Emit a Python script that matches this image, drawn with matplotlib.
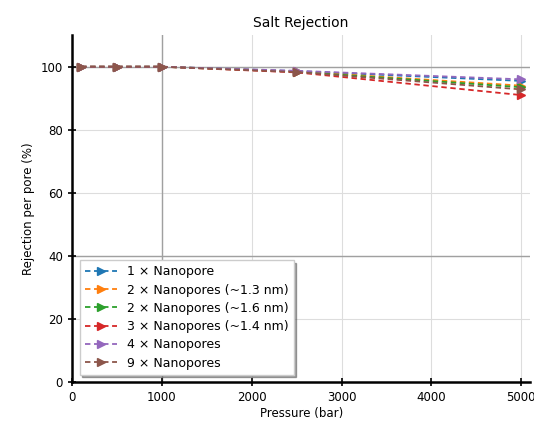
import matplotlib
matplotlib.use("Agg")
import matplotlib.pyplot as plt

# Data
pressure = [100, 500, 1000, 2500, 5000]
labels = ["1 \u00d7 Nanopore",
          "2 \u00d7 Nanopores (~1.3 nm)",
          "2 \u00d7 Nanopores (~1.6 nm)",
          "3 \u00d7 Nanopores (~1.4 nm)",
          "4 \u00d7 Nanopores",
          "9 \u00d7 Nanopores"]
rej_1 = [100, 100, 100, 98.6, 95.5]
rej_2a = [100, 100, 100, 98.5, 94.0]
rej_2b = [100, 100, 100, 98.4, 93.5]
rej_3 = [100, 100, 100, 98.2, 91.0]
rej_4 = [100, 100, 100, 98.7, 96.0]
rej_9 = [100, 100, 100, 98.3, 92.8]
series = [rej_1, rej_2a, rej_2b, rej_3, rej_4, rej_9]

xticks = [0, 1000, 2000, 3000, 4000, 5000]
yticks = [0, 20, 40, 60, 80, 100]

matplotlib.rc('font', size=8.5)

fig, ax = plt.subplots(figsize=(5.34, 4.24), dpi=100)
fig.subplots_adjust(left=0.135, right=0.993, bottom=0.099, top=0.917)

# grid
for x in xticks[1:]:
    ax.axvline(x, color='#dddddd', lw=0.8, zorder=0)
for y in yticks[1:]:
    ax.axhline(y, color='#dddddd', lw=0.8, zorder=0)
ax.axvline(1000, color='#a0a0a0', lw=1.0, zorder=0)
ax.axhline(100, color='#a0a0a0', lw=1.0, zorder=0)
ax.axhline(40, color='#a0a0a0', lw=1.0, zorder=0)

for vals, lab in zip(series, labels):
    ax.plot(pressure, vals, '--', marker='>', markersize=5.5, lw=1.3,
            dashes=(3, 2), label=lab)

ax.set_xlim(0, 5100)
ax.set_ylim(0, 110)
ax.set_xticks(xticks)
ax.set_yticks(yticks)
ax.tick_params(direction='inout', length=6, width=1.2)

for s in ['top', 'right']:
    ax.spines[s].set_visible(False)
for s in ['left', 'bottom']:
    ax.spines[s].set_linewidth(1.8)

ax.set_title('Salt Rejection', fontsize=10)
ax.set_xlabel('Pressure (bar)', labelpad=2)
ax.set_ylabel('Rejection per pore (%)')

leg = ax.legend(loc='lower left', shadow=True, fancybox=False, framealpha=1,
                fontsize=9, handlelength=2.6, borderaxespad=0.6,
                labelspacing=0.42)
leg.get_frame().set_edgecolor('#cccccc')

fig.savefig("out.png", dpi=100)
